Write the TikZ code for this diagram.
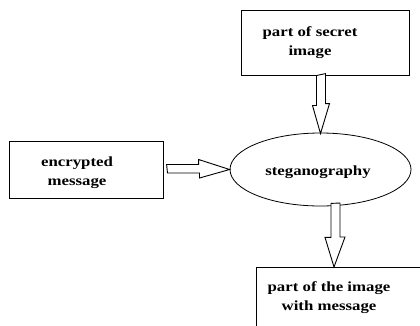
\documentclass[tikz,border=0pt]{standalone}
\usepackage{fontspec}
\setmainfont{Liberation Serif}[FakeStretch=1.2]
\usetikzlibrary{shapes.geometric,calc}
\begin{document}
\begin{tikzpicture}[x=1pt,y=-1pt,
  boxnode/.style={draw,line width=1pt,rectangle,inner sep=0pt},
  txt/.style={font=\bfseries\fontsize{14}{19}\selectfont,align=center,inner sep=0pt},
  hollow/.style={draw,line width=0.9pt,line join=miter,fill=white}]
\useasboundingbox (0,0) rectangle (420,325);
\clip (0,0) rectangle (420,325);
\fill[white] (0,0) rectangle (420,325);
% boxes
\node[boxnode,minimum width=168,minimum height=65] (top) at (325,42.5) {};
\node[txt] (toptxt) at (310,43) {part of secret\\image};
\node[boxnode,minimum width=154,minimum height=57] (left) at (86,169.5) {};
\node[txt] (lefttxt) at (77,173) {encrypted\\message};
\node[draw,line width=0.8pt,ellipse,minimum width=181,minimum height=73,inner sep=0pt] (ell) at (320.5,169.5) {};
\node[txt] (elltxt) at (318,172) {steganography};
\node[boxnode,minimum width=190,minimum height=80,anchor=north west] (out) at (256,267) {};
\node[txt] (outtxt) at (329,298) {part of the image\\with message};
% hollow arrows
\coordinate (t1) at ($(ell.north)+(0,1)$);
\draw[hollow] ($(top.south)+(-8.5,0)$) -- ++(0,30) -- ++(-4,0) -- (t1) -- ++(9,-30) -- ++(-4,0) -- ++(0,-30) -- cycle;
\coordinate (t2) at (ell.west);
\draw[hollow] ($(left.east)+(4,3.5)$) -- ++(32,0) -- ++(0,5) -- (t2) -- ++(-31,-10) -- ++(0,5) -- ++(-32,0) -- cycle;
\coordinate (t3) at ($(out.north west)+(78,0)$);
\draw[hollow] ($(ell.south)+(10.5,-3)$) -- ++(0,34) -- ++(-6,0) -- (t3) -- ++(11,-30) -- ++(-5,0) -- ++(0,-34) -- cycle;
\end{tikzpicture}
\end{document}
